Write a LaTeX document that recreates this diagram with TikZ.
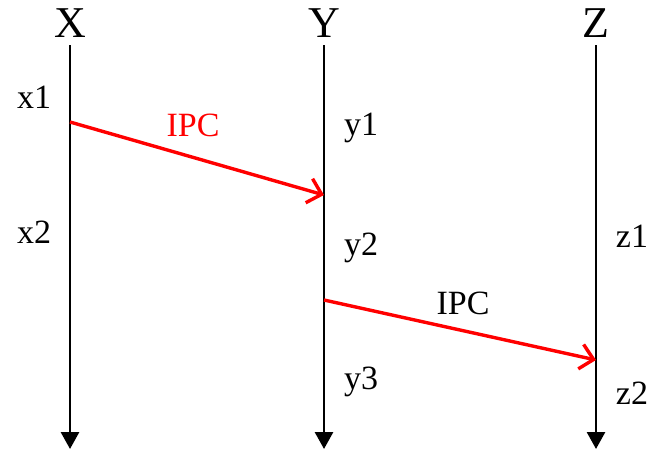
\documentclass[tikz,border=0pt]{standalone}
\usepackage{fontspec}
\setmainfont{Liberation Serif}
\usetikzlibrary{arrows.meta}
\definecolor{ipcRed}{HTML}{FF0000}
\tikzset{
  ipc diagram/.style={
    x=1pt, y=-1pt,
    every node/.style={font=\fontsize{34}{40}\selectfont,
      text=black, inner sep=0pt, outer sep=0pt}
  },
  ipc head/.style={font=\fontsize{44}{52}\selectfont},
  ipc lifeline/.style={draw=black, line width=2.8pt,
    -{Triangle[length=17pt,width=18pt]}},
  ipc msg/.style={draw=ipcRed, line width=3.4pt,
    -{Straight Barb[length=13pt,width=25pt,line width=3.4pt]}}
}

\begin{document}
\begin{tikzpicture}[ipc diagram]
    \useasboundingbox (0,0) rectangle (648,451);
    \foreach \ipcName/\ipcX in {X/70,Y/324,Z/596} {
      \node[ipc head] (head\ipcName) at (\ipcX,23) {\ipcName};
      \coordinate (top\ipcName) at (\ipcX,45);
      \coordinate (bot\ipcName) at (\ipcX,449);
      \draw[ipc lifeline] (top\ipcName) -- (bot\ipcName);
    }
    \foreach \ipcLbl/\ipcX/\ipcY in {
      x1/34/97, x2/34/232,
      y1/361/128, y2/361/248, y3/361/382,
      z1/632/236, z2/632/393
    } {
      \node (lbl\ipcLbl) at (\ipcX,\ipcY) {\ipcLbl};
    }
    \coordinate (sendA) at (70,122);
    \coordinate (recvA) at (324,195);
    \coordinate (sendB) at (324,300);
    \coordinate (recvB) at (596,360);
    \draw[ipc msg] (sendA) -- (recvA);
    \draw[ipc msg] (sendB) -- (recvB);
    \node[text=ipcRed] (ipcA) at (193,125) {IPC};
    \node (ipcB) at (463,303) {IPC};
  \end{tikzpicture}
\end{document}
